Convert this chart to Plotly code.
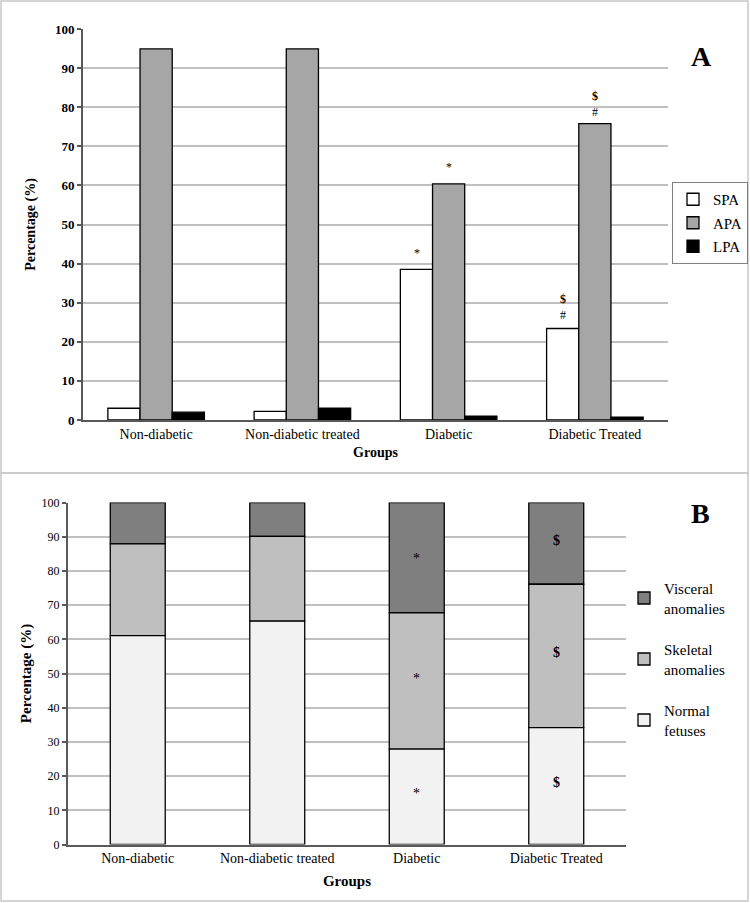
import plotly.graph_objects as go

# ---------------- data ----------------
groups = ["Non-diabetic", "Non-diabetic treated", "Diabetic", "Diabetic Treated"]

# Panel A
spa = [3.0, 2.2, 38.5, 23.4]
apa = [94.9, 94.9, 60.4, 75.8]
lpa = [2.0, 3.0, 1.0, 0.7]

# Panel B (stacked)
normal_fetuses = [61.1, 65.3, 27.9, 34.2]
skeletal = [26.8, 24.8, 39.8, 41.9]
visceral = [12.1, 9.9, 32.3, 23.9]

yticks = [0, 10, 20, 30, 40, 50, 60, 70, 80, 90, 100]

FONT = "Liberation Serif, Times New Roman, serif"
W, H = 750, 903


def px(x):
    return x / W


def py(y):
    return 1 - y / H


fig = go.Figure()

# ---- Panel A: grouped bars ----
a_series = [("SPA", spa, "#ffffff"), ("APA", apa, "#a6a6a6"), ("LPA", lpa, "#000000")]
a_offsets = [-0.33, -0.11, 0.11]
for (name, vals, col), off in zip(a_series, a_offsets):
    fig.add_trace(go.Bar(
        x=groups, y=vals, name=name, width=0.22, offset=off,
        marker=dict(color=col, line=dict(color="#000000", width=1.3)),
        xaxis="x", yaxis="y", legend="legend", legendgroup=name,
    ))

# ---- Panel B: stacked bars (legend lists top segment first) ----
base_sk = normal_fetuses
base_vi = [n + s for n, s in zip(normal_fetuses, skeletal)]
b_series = [
    ("Visceral<br>anomalies", visceral, base_vi, "#7f7f7f"),
    ("Skeletal<br>anomalies", skeletal, base_sk, "#bfbfbf"),
    ("Normal<br>fetuses", normal_fetuses, [0, 0, 0, 0], "#f2f2f2"),
]
for name, vals, base, col in b_series:
    fig.add_trace(go.Bar(
        x=groups, y=vals, base=base, name=name, width=0.394, offset=-0.197,
        marker=dict(color=col, line=dict(color="#000000", width=1.3)),
        xaxis="x2", yaxis="y2", legend="legend2", legendgroup=name,
    ))

axis_common = dict(
    showline=True, linecolor="#595959", linewidth=2,
    automargin=False,
)

fig.update_layout(
    width=W, height=H,
    margin=dict(l=0, r=0, t=0, b=0),
    paper_bgcolor="#ffffff", plot_bgcolor="#ffffff",
    barmode="overlay",
    font=dict(family=FONT, color="#000000"),
    xaxis=dict(
        domain=[px(83), px(668)], anchor="y", type="category",
        range=[-0.5, 3.5], showgrid=False, ticks="",
        tickfont=dict(size=14, family=FONT),
        title=dict(text="<b>Groups</b>", font=dict(size=14, family=FONT), standoff=6),
        **axis_common,
    ),
    yaxis=dict(
        domain=[py(420), py(29)], anchor="x", range=[0, 100],
        tickvals=yticks, ticktext=[f"<b>{v}</b>" for v in yticks],
        tickfont=dict(size=13, family=FONT),
        ticks="outside", ticklen=4, tickcolor="#595959", tickwidth=1.5,
        showgrid=True, gridcolor="#c0c0c0", gridwidth=1.5,
        title=dict(text="<b>Percentage (%)</b>", font=dict(size=14, family=FONT), standoff=16),
        **axis_common,
    ),
    xaxis2=dict(
        domain=[px(68), px(626)], anchor="y2", type="category",
        range=[-0.5, 3.5], showgrid=False, ticks="",
        tickfont=dict(size=14, family=FONT),
        title=dict(text="<b>Groups</b>", font=dict(size=15, family=FONT), standoff=10),
        **axis_common,
    ),
    yaxis2=dict(
        domain=[py(844.5), py(502.5)], anchor="x2", range=[0, 100],
        tickvals=yticks,
        tickfont=dict(size=12, family=FONT),
        ticks="outside", ticklen=4, tickcolor="#595959", tickwidth=1.5,
        showgrid=True, gridcolor="#c0c0c0", gridwidth=1.5,
        title=dict(text="<b>Percentage (%)</b>", font=dict(size=15, family=FONT), standoff=6),
        **axis_common,
    ),
    legend=dict(
        x=px(672), y=py(182), xanchor="left", yanchor="top",
        bordercolor="#7f7f7f", borderwidth=1, bgcolor="#ffffff",
        font=dict(size=15, family=FONT), traceorder="grouped", tracegroupgap=1,
    ),
    legend2=dict(
        x=px(624), y=py(572), xanchor="left", yanchor="top",
        borderwidth=0, bgcolor="rgba(0,0,0,0)",
        font=dict(size=15, family=FONT), traceorder="grouped", tracegroupgap=19,
    ),
)

# panel frames
frame = dict(type="rect", xref="paper", yref="paper", line=dict(color="#c8c8c8", width=1.5), layer="below")
fig.add_shape(x0=px(1), x1=px(748), y0=py(473), y1=py(1), **frame)
fig.add_shape(x0=px(1), x1=px(748), y0=py(901), y1=py(473), **frame)

# panel letters
fig.add_annotation(text="<b>A</b>", x=px(714), y=py(39), xref="paper", yref="paper",
                   showarrow=False, font=dict(size=28, family=FONT, color="#000000"))
fig.add_annotation(text="<b>B</b>", x=px(712), y=py(513), xref="paper", yref="paper",
                   showarrow=False, font=dict(size=28, family=FONT, color="#000000"))

# significance marks panel A
marks_a = [
    ("Diabetic", -32, 42.7, "*"),
    ("Diabetic", 0, 64.7, "*"),
    ("Diabetic Treated", -32, 28.9, "<b>$</b><br>#"),
    ("Diabetic Treated", 0, 80.9, "<b>$</b><br>#"),
]
for g, xs, yv, t in marks_a:
    fig.add_annotation(text=t, x=g, y=yv, xref="x", yref="y", xshift=xs,
                       showarrow=False, font=dict(size=12, family=FONT, color="#000000"))

# significance marks panel B
marks_b = [
    ("Diabetic", 83.6, "*"), ("Diabetic", 48.4, "*"), ("Diabetic", 14.9, "*"),
    ("Diabetic Treated", 89.0, "<b>$</b>"), ("Diabetic Treated", 56.0, "<b>$</b>"),
    ("Diabetic Treated", 18.0, "<b>$</b>"),
]
for g, yv, t in marks_b:
    fig.add_annotation(text=t, x=g, y=yv, xref="x2", yref="y2",
                       showarrow=False, font=dict(size=14, family=FONT, color="#000000"))

fig.write_html("out.html", config={"displayModeBar": False},
               post_script="document.body.style.margin='0';")
